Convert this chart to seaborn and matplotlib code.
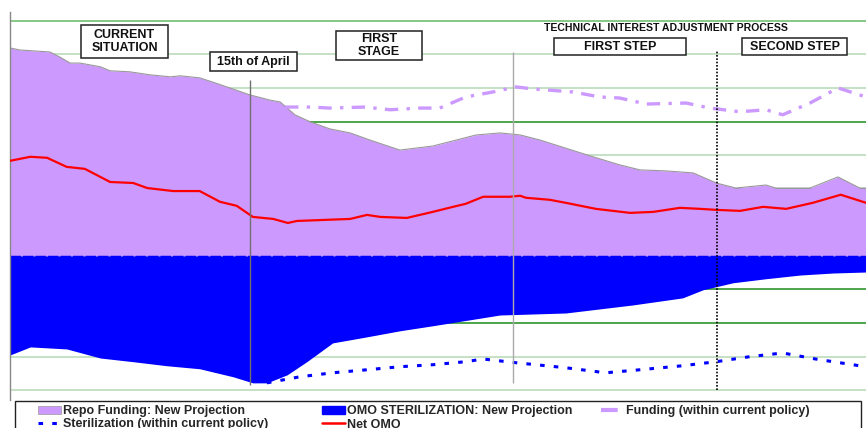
import numpy as np
import pandas as pd
import seaborn as sns
import matplotlib.pyplot as plt
from matplotlib.patches import Patch, Rectangle
from matplotlib.lines import Line2D

# === Data (weeks from start, values in grid units) ===
repo_wk = [0, 1.4, 5.7, 7.1, 8.6, 10, 12.9, 14.3, 17.1, 20, 22.9, 24.3, 27.1, 29.3, 31.4, 34.3,
           37.1, 38.6, 40.7, 42.9, 45.7, 48.6, 51.4, 55.7, 60.4, 66.6, 70, 72.9, 75.7, 83.3, 87.1,
           90, 93.7, 97.6, 100.9, 103.7, 108, 109.4, 114.3, 118.3, 121.4, 122.3]
repo_val = [6.19, 6.13, 6.07, 5.92, 5.74, 5.74, 5.63, 5.51, 5.48, 5.39, 5.33, 5.36, 5.30, 5.15, 5.0, 4.79,
            4.64, 4.58, 4.20, 3.99, 3.78, 3.66, 3.45, 3.15, 3.27, 3.60, 3.66, 3.60, 3.45, 2.95, 2.71,
            2.56, 2.53, 2.47, 2.17, 2.02, 2.11, 2.02, 2.02, 2.35, 2.02, 2.02]

omo_wk = [0, 2.9, 8.1, 12.9, 17.6, 22.4, 27.1, 31.9, 34.7, 36.7, 39.6, 42.4, 46.1, 51, 55.7, 60.4,
          70, 79.4, 89, 96.1, 99, 103.3, 108, 112.9, 117.6, 122.3]
omo_val = [-2.95, -2.71, -2.77, -3.04, -3.15, -3.27, -3.36, -3.60, -3.78, -3.78, -3.54, -3.15, -2.59,
           -2.41, -2.23, -2.08, -1.76, -1.70, -1.46, -1.25, -1.01, -0.80, -0.68, -0.57, -0.51, -0.48]

fund_wk = [39.3, 42.9, 45.7, 50.7, 54.3, 58.6, 61.4, 65.1, 69, 72.3, 74.7, 80.4, 84.3, 87.1, 90.9,
           96.6, 100, 104.3, 108, 110.4, 114.3, 118.3, 122.3]
fund_val = [4.43, 4.43, 4.40, 4.43, 4.35, 4.40, 4.40, 4.73, 4.88, 5.03, 4.97, 4.88, 4.73, 4.70, 4.52,
            4.55, 4.40, 4.29, 4.35, 4.20, 4.55, 5.0, 4.73]

ster_wk = [36.7, 41.4, 46.1, 51, 55.7, 60.4, 65.1, 67.6, 72.3, 79.4, 85.1, 90, 96.1, 100.9, 105.7,
           110.4, 115.1, 122.3]
ster_val = [-3.78, -3.60, -3.48, -3.39, -3.30, -3.24, -3.15, -3.07, -3.18, -3.33, -3.48, -3.39, -3.27,
            -3.15, -3.0, -2.89, -3.07, -3.30]

net_wk = [0, 2.9, 5.3, 8.1, 10.7, 14.3, 17.6, 19.6, 23.3, 27.1, 30, 32.4, 34.7, 37.6, 39.7, 41, 48.6,
          51, 52.9, 56.7, 60.4, 63.3, 65.1, 67.6, 71.4, 72.9, 73.7, 77.1, 79.4, 83.7, 88.6, 91.9,
          95.7, 98.6, 100.9, 104.3, 107.6, 110.9, 114.7, 118.7, 122.3]
net_val = [2.83, 2.95, 2.92, 2.65, 2.59, 2.20, 2.17, 2.02, 1.93, 1.93, 1.61, 1.49, 1.16, 1.10, 0.98,
           1.04, 1.10, 1.22, 1.16, 1.13, 1.31, 1.46, 1.55, 1.76, 1.76, 1.79, 1.73, 1.67, 1.58, 1.40,
           1.28, 1.31, 1.43, 1.40, 1.37, 1.34, 1.46, 1.40, 1.58, 1.82, 1.58]

grid_levels = [7, 6, 5, 4, 3, 2, 1, -1, -2, -3, -4]
grid_colors = ['#72c072', '#bcdcbc', '#bcdcbc', '#2e962e', '#bcdcbc', '#2e962e', '#bcdcbc',
               '#2e962e', '#2e962e', '#bcdcbc', '#bcdcbc']

# week markers: 15th of April, first step, second step
april_wk = 34.3
step1_wk = 71.9
step2_wk = 101.0

legend_labels = ['Repo Funding: New Projection', 'OMO STERILIZATION: New Projection',
                 'Funding (within current policy)', 'Sterilization (within current policy)', 'Net OMO']

PURPLE = '#cc99ff'
BLUE = '#0000ff'
RED = '#ff0000'

sns.set_theme(style='white')
plt.rcParams['font.family'] = ['Liberation Sans', 'DejaVu Sans']

W, H = 866, 428
fig = plt.figure(figsize=(W / 100, H / 100), dpi=100)
ax = fig.add_axes([10 / W, 1 - 400 / H, 856 / W, 388 / H])

# === Gridlines ===
for lvl, c in zip(grid_levels, grid_colors):
    ax.axhline(lvl, color=c, lw=1.2, zorder=0)

# === Areas ===
ax.fill_between(repo_wk, 0, repo_val, color=PURPLE, lw=0, zorder=1)
sns.lineplot(x=repo_wk, y=repo_val, color='#999999', lw=0.8, ax=ax, zorder=1.5)
ax.fill_between(omo_wk, 0, omo_val, color=BLUE, lw=0, zorder=1)
ax.axhline(-0.04, color=BLUE, lw=2.5, linestyle=(0, (3, 0.6)), zorder=2)

# === Lines ===
sns.lineplot(x=fund_wk, y=fund_val, color=PURPLE, lw=2.4,
             linestyle=(0, (4, 2.5, 1, 2.5)), ax=ax, zorder=3)
sns.lineplot(x=ster_wk, y=ster_val, color=BLUE, lw=2.2,
             linestyle=(0, (1.5, 3)), ax=ax, zorder=3)
sns.lineplot(x=net_wk, y=net_val, color=RED, lw=1.6, ax=ax, zorder=3)

# === Vertical markers ===
ax.vlines(april_wk, -3.84, 5.24, color='#707070', lw=1.0, zorder=4)
ax.vlines(step1_wk, -3.78, 6.07, color='#aaaaaa', lw=1.0, zorder=4)
ax.vlines(step2_wk, -3.99, 6.13, color='black', lw=1.2, linestyle=(0, (1, 1)), zorder=4)

ax.set_xlim(0, 122.3)
ax.set_ylim(-4.29, 7.26)
ax.set_xticks([])
ax.set_yticks([])
for s in ['top', 'right', 'bottom']:
    ax.spines[s].set_visible(False)
ax.spines['left'].set_color('#888888')
ax.spines['left'].set_linewidth(1.0)


# === Annotation boxes (figure pixel coords) ===
def fig_box(x0, y0, x1, y1, text, size=9):
    fig.patches.append(Rectangle((x0 / W, 1 - y1 / H), (x1 - x0) / W, (y1 - y0) / H,
                                 transform=fig.transFigure, fill=True, facecolor='white',
                                 edgecolor='#222222', lw=1.1, zorder=10))
    fig.text((x0 + x1) / 2 / W, 1 - (y0 + y1) / 2 / H, text, ha='center', va='center',
             fontsize=size, fontweight='bold', color='#111111', linespacing=1.15, zorder=11)


fig_box(81, 25, 168, 58, 'CURRENT\nSITUATION')
fig_box(210, 52, 297, 71, '15th of April')
fig_box(336, 31, 422, 60, 'FIRST\nSTAGE')
fig_box(554, 38, 686, 55, 'FIRST STEP')
fig_box(742, 38, 847, 55, 'SECOND STEP')
fig.text(666 / W, 1 - 28 / H, 'TECHNICAL INTEREST ADJUSTMENT PROCESS', ha='center', va='center',
         fontsize=7.6, fontweight='bold', color='#111111')

# === Legend: frame plus three columns ===
fig.patches.append(Rectangle((15 / W, -0.1), 846 / W, 1 - 401 / H + 0.1,
                             transform=fig.transFigure, fill=True, facecolor='white',
                             edgecolor='#222222', lw=1.0, zorder=10))
columns = [
    ([Patch(facecolor=PURPLE, edgecolor='#999999', lw=0.5),
      Line2D([], [], color=BLUE, lw=2.2, linestyle=(0, (1.5, 3)))],
     [legend_labels[0], legend_labels[3]], 38),
    ([Patch(facecolor=BLUE, edgecolor=BLUE),
      Line2D([], [], color=RED, lw=1.8)],
     [legend_labels[1], legend_labels[4]], 322),
    ([Line2D([], [], color=PURPLE, lw=3, linestyle=(0, (4, 1.5, 1, 1.5)))],
     [legend_labels[2]], 601),
]
for hs, ls, xpx in columns:
    leg = fig.legend(hs, ls, loc='upper left', bbox_to_anchor=(xpx / W, 1 - 405 / H),
                     frameon=False, borderaxespad=0, borderpad=0,
                     prop={'size': 9, 'weight': 'bold'}, handlelength=1.8, handleheight=0.6,
                     handletextpad=0.2, labelspacing=0.12)
    leg.set_zorder(12)

fig.savefig('out.png', dpi=100)
